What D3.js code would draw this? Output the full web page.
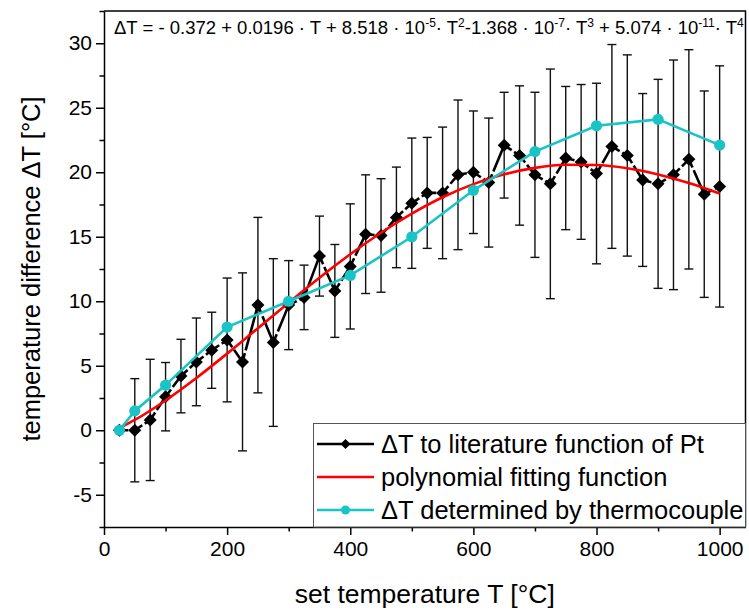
<!DOCTYPE html>
<html>
<head>
<meta charset="utf-8">
<script src="https://cdn.jsdelivr.net/npm/d3@7/dist/d3.min.js"></script>
<style>
body { margin: 0; background: #fff; }
text { font-family: "Liberation Sans", Arial, sans-serif; fill: #000; }
</style>
</head>
<body>
<svg id="chart" width="749" height="610"></svg>
<script>
// set temperature T of the Pt measurement (°C)
var ptTemps = [25, 50, 75, 100, 125, 150, 175, 200, 225, 250, 275, 300, 325, 350, 375, 400,
    425, 450, 475, 500, 525, 550, 575, 600, 625, 650, 675, 700, 725, 750, 775, 800,
    825, 850, 875, 900, 925, 950, 975, 1000];
// ΔT to literature function of Pt
var ptDelta = [0, 0, 0.8, 2.6, 4.2, 5.3, 6.2, 7.0, 5.3, 9.7, 6.8, 9.7, 10.3, 13.5, 10.8, 12.7,
    15.2, 15.1, 16.5, 17.6, 18.4, 18.4, 19.8, 20.0, 19.2, 22.1, 21.3, 19.8, 19.1, 21.1, 20.8, 19.9,
    22.0, 21.3, 19.4, 19.1, 19.8, 21.0, 18.3, 18.9];
// error bar (+/-)
var ptError = [0, 4.0, 4.7, 2.65, 2.85, 3.4, 2.95, 4.8, 6.9, 6.8, 6.5, 3.45, 2.5, 3.1, 3.6, 4.85,
    4.6, 4.4, 3.9, 5.05, 4.3, 5.1, 5.8, 4.75, 5.0, 4.1, 5.4, 6.4, 8.9, 5.55, 6.0, 7.0,
    7.9, 7.8, 6.7, 8.1, 8.9, 8.5, 8.0, 9.35];

// polynomial fitting function
var fitTemps = [25, 50, 100, 150, 200, 250, 300, 350, 400, 450, 500, 550, 600, 650, 700, 750,
    800, 850, 900, 950, 1000];
var fitDelta = [0.17, 0.80, 2.31, 4.05, 5.94, 7.91, 9.89, 11.82, 13.64, 15.31, 16.79, 18.06,
    19.08, 19.84, 20.34, 20.58, 20.56, 20.31, 19.83, 19.16, 18.35];

// ΔT determined by thermocouple
var tcTemps = [25, 50, 100, 200, 300, 400, 500, 600, 700, 800, 900, 1000];
var tcDelta = [0, 1.5, 3.5, 8.0, 10.0, 12.0, 15.0, 18.6, 21.6, 23.6, 24.1, 22.1];

var xMajor = [0, 200, 400, 600, 800, 1000];
var xMinor = [100, 300, 500, 700, 900];
var yMajor = [-5, 0, 5, 10, 15, 20, 25, 30];
var yMinor = [-7.5, -2.5, 2.5, 7.5, 12.5, 17.5, 22.5, 27.5, 32.5];

var legendLabels = ["\u0394T to literature function of Pt", "polynomial fitting function",
    "\u0394T determined by thermocouple"];

// formula: [text, superscript?]
var formulaParts = [
    ["\u0394T = - 0.372 + 0.0196 \u00b7 T + 8.518 \u00b7 10", false], ["-5", true],
    ["\u00b7 T", false], ["2", true],
    ["-1.368 \u00b7 10", false], ["-7", true],
    ["\u00b7 T", false], ["3", true],
    [" + 5.074 \u00b7 10", false], ["-11", true],
    ["\u00b7 T", false], ["4", true]
];

var BLACK = "#000", RED = "#ff0000", CYAN = "#19c3c6";

var plotLeft = 104, plotRight = 745.5, plotTop = 11, plotBottom = 527;

var svg = d3.select("#chart");

var x = d3.scaleLinear().domain([0, 1042]).range([plotLeft, plotRight]);
var y = d3.scaleLinear().domain([-7.5, 32.5]).range([plotBottom, plotTop]);

var plainNumber = function (d) { return String(d); };

// frame (top + right)
svg.append("path")
    .attr("d", "M" + plotLeft + "," + plotTop + "H" + plotRight + "V" + plotBottom)
    .attr("fill", "none")
    .attr("stroke", "#000")
    .attr("stroke-width", 1.5);

// axes
svg.append("g")
    .attr("class", "axis")
    .attr("transform", "translate(0," + plotBottom + ")")
    .call(d3.axisBottom(x).tickValues(xMajor).tickSize(8).tickPadding(6)
        .tickSizeOuter(0).tickFormat(plainNumber));
svg.append("g")
    .attr("class", "axis")
    .attr("transform", "translate(0," + plotBottom + ")")
    .call(d3.axisBottom(x).tickValues(xMinor).tickSize(4.5).tickFormat("").tickSizeOuter(0))
    .select(".domain").remove();

svg.append("g")
    .attr("class", "axis")
    .attr("transform", "translate(" + plotLeft + ",0)")
    .call(d3.axisLeft(y).tickValues(yMajor).tickSize(8).tickPadding(4)
        .tickSizeOuter(0).tickFormat(plainNumber));
svg.append("g")
    .attr("class", "axis")
    .attr("transform", "translate(" + plotLeft + ",0)")
    .call(d3.axisLeft(y).tickValues(yMinor).tickSize(4.5).tickFormat("").tickSizeOuter(0))
    .select(".domain").remove();

svg.selectAll(".axis .domain, .axis .tick line")
    .attr("stroke", "#000")
    .attr("stroke-width", 1.5);
svg.selectAll(".axis .tick text")
    .attr("font-size", 21)
    .attr("font-family", "Liberation Sans, Arial, sans-serif")
    .attr("fill", "#000");

// axis titles
svg.append("text")
    .attr("x", (plotLeft + plotRight) / 2)
    .attr("y", 603)
    .attr("text-anchor", "middle")
    .attr("font-size", 26.5)
    .text("set temperature T [\u00b0C]");

svg.append("text")
    .attr("transform", "translate(40," + ((plotTop + plotBottom) / 2) + ") rotate(-90)")
    .attr("text-anchor", "middle")
    .attr("font-size", 25.5)
    .text("temperature difference \u0394T [\u00b0C]");

// formula
var formula = svg.append("text")
    .attr("x", 114)
    .attr("y", 34)
    .attr("font-size", 18.5);
formulaParts.forEach(function (p) {
    formula.append("tspan")
        .attr("dy", p[1] ? -7 : 7)
        .attr("font-size", p[1] ? 12 : 18.5)
        .text(p[0]);
});
formula.select("tspan").attr("dy", 0);

// error bars
var ptData = ptTemps.map(function (t, i) {
    return { t: t, v: ptDelta[i], e: ptError[i] };
});
var bars = svg.append("g")
    .attr("stroke", "#111")
    .attr("stroke-width", 1.4);
ptData.filter(function (d) { return d.e > 0; }).forEach(function (d) {
    var cx = x(d.t);
    bars.append("line")
        .attr("x1", cx).attr("x2", cx)
        .attr("y1", y(d.v + d.e)).attr("y2", y(d.v - d.e));
    [d.v + d.e, d.v - d.e].forEach(function (v) {
        bars.append("line")
            .attr("x1", cx - 4.5).attr("x2", cx + 4.5)
            .attr("y1", y(v)).attr("y2", y(v));
    });
});

// black connecting line, one segment per pair so the dash restarts at each point
var blackLines = svg.append("g");
for (var i = 0; i < ptData.length - 1; i++) {
    blackLines.append("line")
        .attr("x1", x(ptData[i].t)).attr("y1", y(ptData[i].v))
        .attr("x2", x(ptData[i + 1].t)).attr("y2", y(ptData[i + 1].v))
        .attr("stroke", BLACK)
        .attr("stroke-width", 2.6)
        .attr("stroke-dasharray", "9,3,400");
}

var diamond = function (s) {
    return "M0," + (-s) + "L" + s + ",0L0," + s + "L" + (-s) + ",0Z";
};

svg.append("g").selectAll("path")
    .data(ptData)
    .join("path")
        .attr("transform", function (d) {
            return "translate(" + x(d.t) + "," + y(d.v) + ")";
        })
        .attr("d", diamond(6.5))
        .attr("fill", BLACK);

// fitted curve
var fitData = fitTemps.map(function (t, i) { return [t, fitDelta[i]]; });
svg.append("path")
    .datum(fitData)
    .attr("fill", "none")
    .attr("stroke", RED)
    .attr("stroke-width", 2.6)
    .attr("d", d3.line()
        .x(function (d) { return x(d[0]); })
        .y(function (d) { return y(d[1]); })
        .curve(d3.curveMonotoneX));

// thermocouple
var tcData = tcTemps.map(function (t, i) { return [t, tcDelta[i]]; });
svg.append("path")
    .datum(tcData)
    .attr("fill", "none")
    .attr("stroke", CYAN)
    .attr("stroke-width", 2.6)
    .attr("d", d3.line()
        .x(function (d) { return x(d[0]); })
        .y(function (d) { return y(d[1]); }));
svg.append("g").selectAll("circle")
    .data(tcData)
    .join("circle")
        .attr("cx", function (d) { return x(d[0]); })
        .attr("cy", function (d) { return y(d[1]); })
        .attr("r", 5.6)
        .attr("fill", CYAN);

// legend
var lg = svg.append("g");
lg.append("rect")
    .attr("x", 313.5).attr("y", 423.5)
    .attr("width", plotRight - 313.5).attr("height", plotBottom - 423.5)
    .attr("fill", "#fff")
    .attr("stroke", "#555")
    .attr("stroke-width", 1);

legendLabels.forEach(function (label, i) {
    var cy = 444 + i * 33,
        color = [BLACK, RED, CYAN][i];
    lg.append("line")
        .attr("x1", 317).attr("x2", 374)
        .attr("y1", cy).attr("y2", cy)
        .attr("stroke", color)
        .attr("stroke-width", 2.6);
    if (i === 0) {
        lg.append("path")
            .attr("transform", "translate(345.5," + cy + ")")
            .attr("d", diamond(5))
            .attr("fill", BLACK);
    } else if (i === 2) {
        lg.append("circle")
            .attr("cx", 345.5).attr("cy", cy)
            .attr("r", 4.5)
            .attr("fill", CYAN);
    }
    lg.append("text")
        .attr("x", 381)
        .attr("y", cy + 8.5)
        .attr("font-size", 25.5)
        .text(label);
});
</script>
</body>
</html>
